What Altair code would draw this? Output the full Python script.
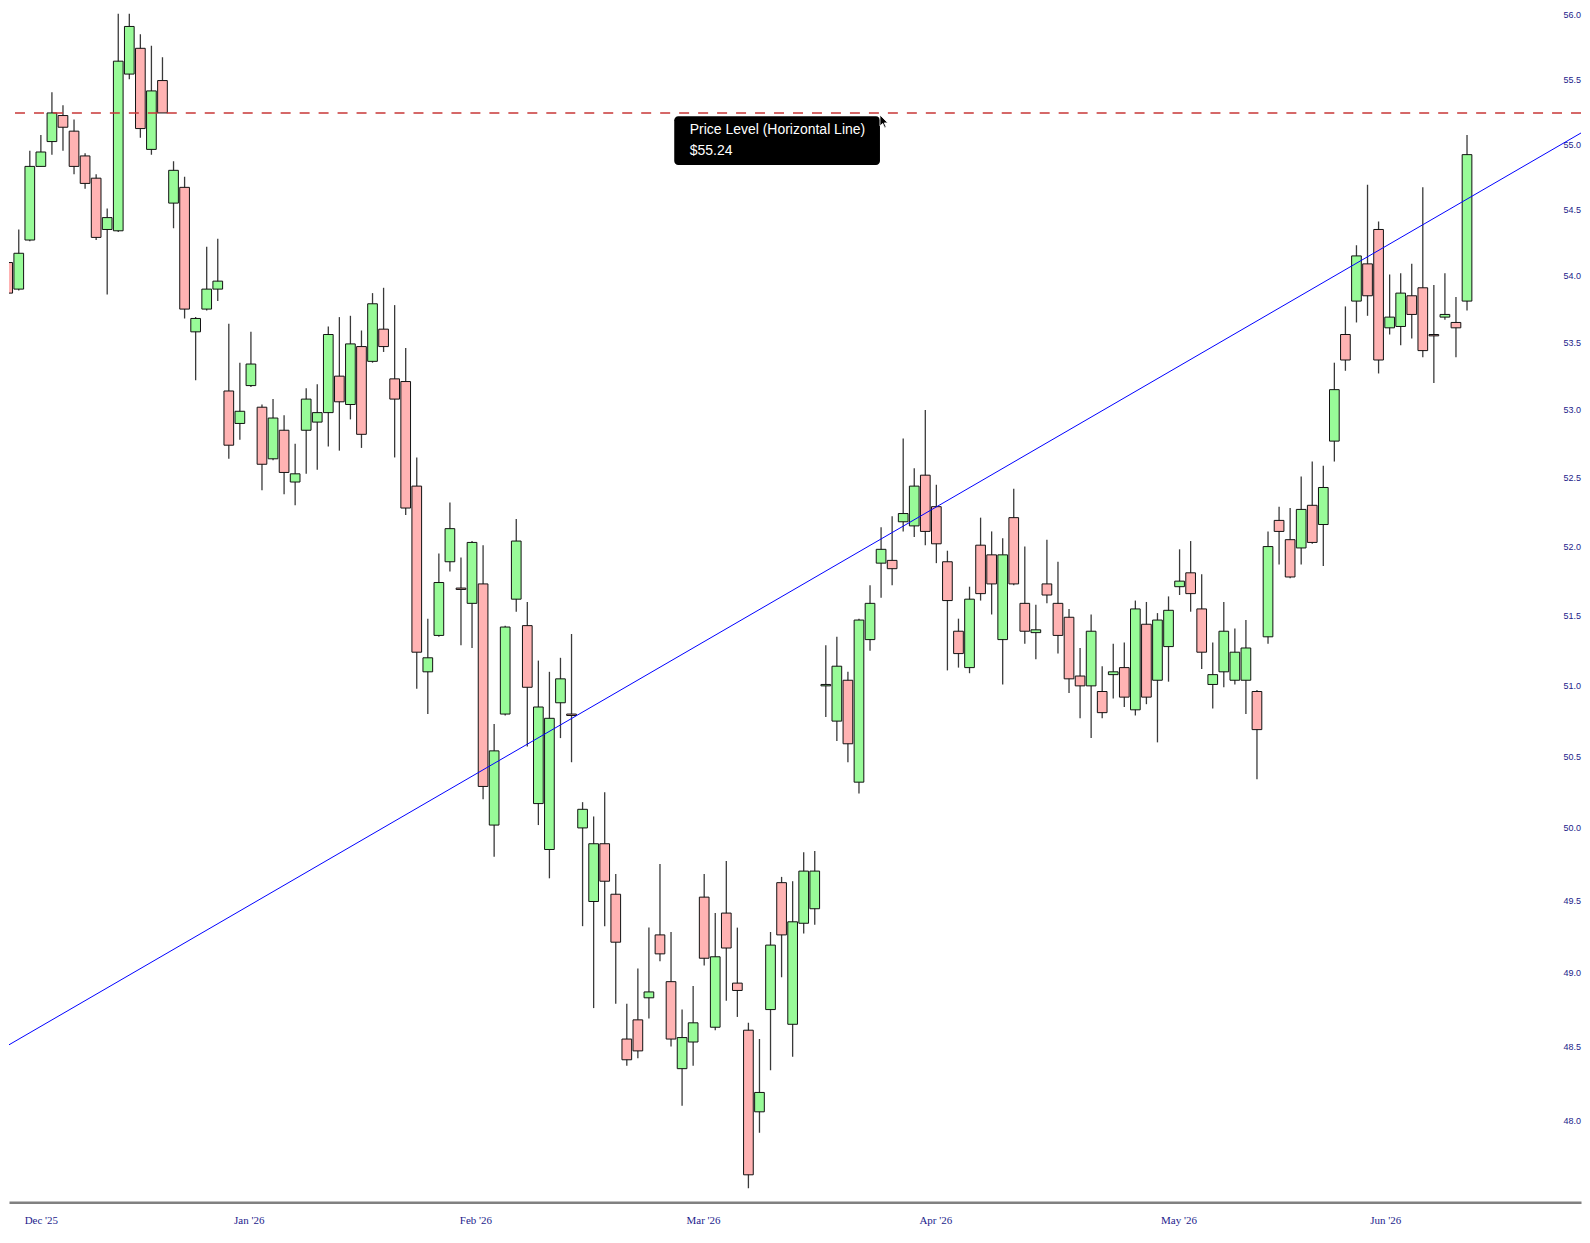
import json
import altair as alt
import pandas as pd

# ---------------- data ----------------
first_index = -1
opens = [54.13, 54.10, 53.90, 54.27, 54.83, 55.02, 55.22, 55.10, 54.91, 54.74,
         54.35, 54.34, 55.54, 55.74, 54.96, 55.49, 54.55, 54.67, 53.58, 53.75,
         53.90, 53.14, 52.90, 53.18, 53.02, 52.64, 52.85, 52.47, 52.85, 52.91,
         52.98, 53.25, 53.04, 53.47, 53.36, 53.60, 53.23, 53.21, 52.44, 51.10,
         51.36, 51.89, 51.70, 51.59, 51.73, 50.02, 50.80, 51.62, 51.43, 50.17,
         49.85, 50.88, 50.80, 50.00, 49.49, 49.89, 49.54, 48.55, 48.68, 48.83,
         49.26, 48.94, 48.35, 48.53, 49.52, 48.63, 49.41, 48.93, 48.61, 48.06,
         48.75, 49.62, 48.65, 49.34, 49.44, 51.00, 50.75, 51.04, 50.32, 51.33,
         51.88, 51.90, 52.18, 52.15, 52.52, 52.29, 51.89, 51.39, 51.13, 52.01,
         51.94, 51.33, 52.21, 51.59, 51.38, 51.73, 51.59, 51.49, 51.07, 51.00,
         50.96, 51.08, 51.13, 50.83, 51.44, 51.04, 51.28, 51.71, 51.81, 51.55,
         51.01, 51.10, 51.04, 51.04, 50.96, 51.35, 52.19, 52.05, 51.99, 52.30,
         52.16, 52.77, 53.56, 53.81, 54.09, 54.35, 53.61, 53.62, 53.85, 53.91,
         53.56, 53.69, 53.65, 53.81]
highs = [54.20, 54.34, 54.35, 54.95, 55.07, 55.40, 55.30, 55.19, 54.93, 54.77,
         54.51, 56.01, 56.01, 55.85, 55.76, 55.67, 54.87, 54.75, 53.69, 54.22,
         54.28, 53.64, 53.35, 53.58, 53.04, 53.08, 52.96, 52.75, 53.16, 53.19,
         53.62, 53.69, 53.70, 53.59, 53.87, 53.91, 53.78, 53.46, 52.65, 51.48,
         51.95, 52.32, 51.92, 52.04, 52.01, 50.73, 51.43, 52.20, 51.60, 51.18,
         51.10, 51.20, 51.37, 50.18, 50.08, 50.25, 49.68, 48.79, 49.03, 49.31,
         49.75, 49.28, 48.75, 48.91, 49.68, 49.41, 49.77, 49.31, 48.66, 48.55,
         49.28, 49.66, 49.63, 49.83, 49.84, 51.29, 51.35, 51.10, 51.48, 51.72,
         52.14, 52.22, 52.79, 52.57, 53.00, 52.45, 51.97, 51.48, 51.71, 52.21,
         52.11, 52.06, 52.42, 52.00, 51.58, 52.05, 51.89, 51.55, 51.27, 51.51,
         51.14, 51.30, 51.31, 51.61, 51.60, 51.52, 51.64, 51.98, 52.04, 51.80,
         51.31, 51.60, 51.41, 51.47, 50.97, 52.11, 52.29, 52.28, 52.51, 52.62,
         52.59, 53.35, 53.77, 54.23, 54.69, 54.41, 54.01, 54.02, 54.09, 54.67,
         53.93, 54.02, 53.84, 55.07]
lows = [53.90, 53.69, 53.89, 54.26, 54.83, 54.92, 54.95, 54.77, 54.66, 54.27,
        53.86, 54.33, 55.50, 55.05, 54.92, 55.24, 54.36, 53.68, 53.22, 53.74,
        53.81, 52.64, 52.78, 53.17, 52.41, 52.63, 52.38, 52.30, 52.53, 52.56,
        52.73, 52.70, 52.93, 52.72, 53.35, 53.43, 52.65, 52.23, 50.98, 50.80,
        51.35, 51.82, 51.29, 51.27, 50.20, 49.80, 50.79, 51.53, 50.57, 50.02,
        49.65, 50.63, 50.46, 49.32, 48.76, 49.32, 48.79, 48.37, 48.42, 48.69,
        49.08, 48.50, 48.10, 48.37, 49.05, 48.61, 48.81, 48.70, 47.55, 47.92,
        48.34, 48.97, 48.43, 49.27, 49.33, 50.78, 50.61, 50.46, 50.24, 51.25,
        51.63, 51.72, 52.11, 52.07, 52.01, 51.88, 51.11, 51.13, 51.09, 51.61,
        51.51, 51.01, 51.72, 51.30, 51.19, 51.59, 51.23, 50.95, 50.77, 50.63,
        50.77, 50.91, 50.85, 50.79, 50.87, 50.60, 51.03, 51.65, 51.53, 51.12,
        50.84, 50.99, 51.01, 50.80, 50.34, 51.30, 51.87, 51.77, 51.87, 52.02,
        51.86, 52.62, 53.29, 53.65, 53.70, 53.27, 53.56, 53.48, 53.53, 53.39,
        53.20, 53.67, 53.39, 53.74]
closes = [53.96, 53.87, 54.17, 54.83, 54.94, 55.24, 55.13, 54.83, 54.70, 54.29,
          54.44, 55.64, 55.91, 55.12, 55.41, 55.24, 54.80, 53.75, 53.68, 53.90,
          53.96, 52.74, 52.99, 53.34, 52.60, 52.94, 52.54, 52.53, 53.08, 52.98,
          53.56, 53.06, 53.49, 52.82, 53.79, 53.47, 53.08, 52.28, 51.24, 51.20,
          51.74, 52.13, 51.69, 52.03, 50.29, 50.54, 51.42, 52.04, 50.99, 50.85,
          50.77, 51.05, 50.79, 50.13, 49.89, 49.63, 49.21, 48.41, 48.47, 48.87,
          49.13, 48.55, 48.56, 48.66, 49.10, 49.11, 49.17, 48.88, 47.64, 48.19,
          49.19, 49.26, 49.35, 49.70, 49.70, 51.01, 51.14, 50.59, 51.47, 51.59,
          51.98, 51.84, 52.24, 52.44, 52.11, 52.02, 51.61, 51.23, 51.62, 51.66,
          51.73, 51.94, 51.73, 51.39, 51.40, 51.65, 51.36, 51.05, 51.00, 51.39,
          50.81, 51.10, 50.92, 51.55, 50.92, 51.47, 51.54, 51.75, 51.66, 51.24,
          51.08, 51.39, 51.24, 51.27, 50.69, 52.00, 52.11, 51.78, 52.27, 52.03,
          52.43, 53.15, 53.37, 54.15, 53.85, 53.37, 53.69, 53.87, 53.71, 53.44,
          53.55, 53.71, 53.61, 54.92]

month_labels = ["Dec '25", "Jan '26", "Feb '26", "Mar '26", "Apr '26", "May '26", "Jun '26"]
month_ticks = [3.0, 21.8, 42.3, 62.9, 83.9, 105.9, 124.6]
price_ticks = [48.0, 48.5, 49.0, 49.5, 50.0, 50.5, 51.0, 51.5, 52.0, 52.5,
               53.0, 53.5, 54.0, 54.5, 55.0, 55.5, 56.0]

trend_index = [-0.6, 143.0]
trend_price = [48.48, 55.12]

level_price = 55.24
level_name = "Price Level (Horizontal Line)"
hover_index = 78.9

# ---------------- tables ----------------
idx = list(range(first_index, first_index + len(opens)))
df = pd.DataFrame({"i": idx, "open": opens, "high": highs, "low": lows, "close": closes})
df["dir"] = ["up" if c >= o else "down" for o, c in zip(opens, closes)]
df["blo"] = [min(o, c) for o, c in zip(opens, closes)]
df["bhi"] = [max(o, c) for o, c in zip(opens, closes)]

trend_df = pd.DataFrame({"i": trend_index, "p": trend_price})
level_df = pd.DataFrame({"p": [level_price]})
tip_df = pd.DataFrame({"i": [hover_index], "p": [level_price],
                       "t1": [level_name], "t2": [f"${level_price:.2f}"]})

# ---------------- scales / axes ----------------
x_scale = alt.Scale(domain=[0.1174, 142.31], nice=False, zero=False, padding=0)
y_scale = alt.Scale(type="log", domain=[47.458, 56.048], nice=False, zero=False, padding=0)

label_expr = f"{json.dumps(month_labels)}[indexof({json.dumps(month_ticks)}, datum.value)]"
x_axis = alt.Axis(values=month_ticks, labelExpr=label_expr, title=None, grid=False,
                  ticks=False, tickSize=0, labelFlush=False, labelOverlap=False,
                  domain=True, domainColor="#808080", domainWidth=2.5,
                  labelColor="#1c1c8c", labelFont="Liberation Serif", labelFontSize=11,
                  labelPadding=18, labelBaseline="middle")
y_axis = alt.Axis(values=price_ticks, format=".1f", title=None, grid=False, orient="right",
                  ticks=False, tickSize=0, domain=False, labelFlush=False, labelOverlap=False,
                  offset=-18, labelPadding=0, labelAlign="left", labelBaseline="middle",
                  labelColor="#22228a", labelFont="Liberation Sans", labelFontSize=9)

X = alt.X("i:Q", scale=x_scale, axis=x_axis)

wicks = alt.Chart(df).mark_rule(color="#3a3a3a", strokeWidth=1.3, clip=True).encode(
    x=X, y=alt.Y("low:Q", scale=y_scale, axis=y_axis), y2="high:Q")

bodies = alt.Chart(df).mark_bar(size=9.7, stroke="#111111", strokeWidth=1, clip=True).encode(
    x=X, y=alt.Y("blo:Q", scale=y_scale, axis=y_axis), y2="bhi:Q",
    color=alt.Color("dir:N", scale=alt.Scale(domain=["up", "down"],
                                             range=["#98fb98", "#ffb3b3"]), legend=None))

level = alt.Chart(level_df).mark_rule(color="#c83737", strokeWidth=1.5,
                                      strokeDash=[10, 9]).encode(
    y=alt.Y("p:Q", scale=y_scale, axis=y_axis))

trend = alt.Chart(trend_df).mark_line(color="#0000ff", strokeWidth=1, clip=True).encode(
    x=X, y=alt.Y("p:Q", scale=y_scale, axis=y_axis))

tip_box = alt.Chart(tip_df).mark_rect(color="black", cornerRadius=4, xOffset=-206, x2Offset=0,
                                      yOffset=3.2, y2Offset=52).encode(
    x=X, x2="i:Q", y=alt.Y("p:Q", scale=y_scale, axis=y_axis), y2="p:Q")

tip_t1 = alt.Chart(tip_df).mark_text(align="left", baseline="middle", dx=-190.5, dy=17.4,
                                     color="white", font="Liberation Sans", fontSize=14).encode(
    x=X, y=alt.Y("p:Q", scale=y_scale, axis=y_axis), text="t1:N")

tip_t2 = alt.Chart(tip_df).mark_text(align="left", baseline="middle", dx=-190.5, dy=37.7,
                                     color="white", font="Liberation Sans", fontSize=14).encode(
    x=X, y=alt.Y("p:Q", scale=y_scale, axis=y_axis), text="t2:N")

cursor = alt.Chart(tip_df).mark_point(
    shape="M0,0L0,1.7L0.42,1.3L0.72,1.95L0.95,1.85L0.66,1.22L1.2,1.22Z",
    size=170, filled=True, fill="black", stroke="white", strokeWidth=0.8, opacity=1,
    yOffset=2).encode(x=X, y=alt.Y("p:Q", scale=y_scale, axis=y_axis))

chart = alt.layer(wicks, bodies, level, trend, tip_box, tip_t1, tip_t2, cursor).properties(
    width=1574, height=1195, padding=0, background="white"
).configure_view(strokeWidth=0)

chart.save("out.html", embed_options={"renderer": "svg", "actions": False})
